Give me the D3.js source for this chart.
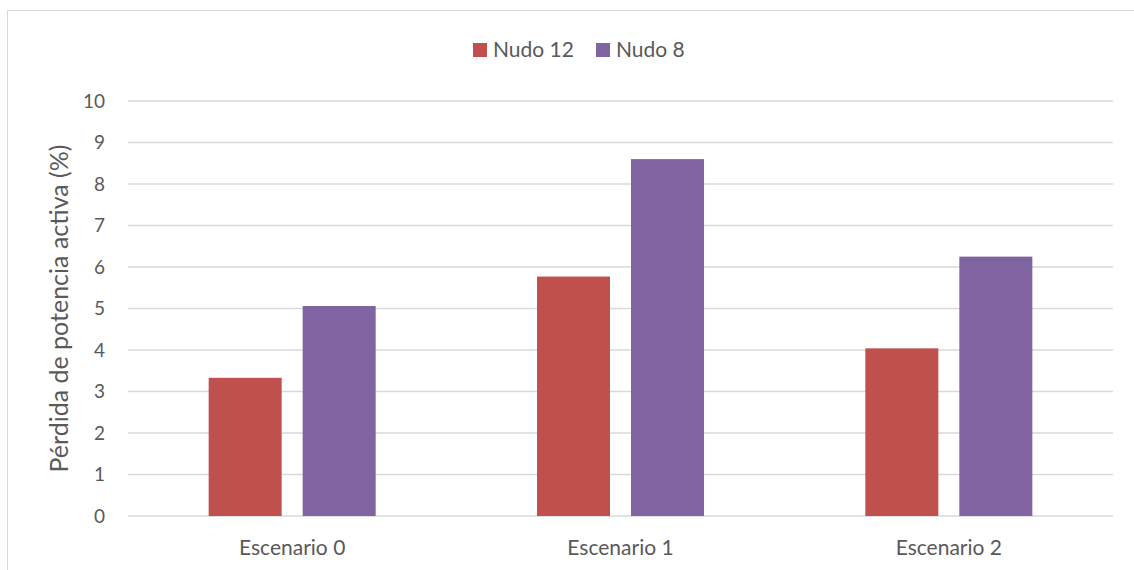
<!DOCTYPE html>
<html>
<head>
<meta charset="utf-8">
<script src="https://cdn.jsdelivr.net/npm/d3@7"></script>
<style>
  html, body { margin: 0; padding: 0; background: #fff; }
  svg { display: block; font-family: Lato, "Open Sans", sans-serif; }
</style>
</head>
<body>
<svg id="chart" width="1134" height="570"></svg>
<script>
// Categories, series and tick values
const categories = ["Escenario 0", "Escenario 1", "Escenario 2"];
const seriesNames = ["Nudo 12", "Nudo 8"];
const nudo12 = [3.33, 5.77, 4.04];
const nudo8 = [5.06, 8.60, 6.25];
const yTicks = [0, 1, 2, 3, 4, 5, 6, 7, 8, 9, 10];
const colors = ["#C0504D", "#8064A2"];
const yTitle = "Pérdida de potencia activa (%)";

const seriesValues = [nudo12, nudo8];
const svg = d3.select("#chart");
const textColor = "#595959";

// Chart area frame
svg.append("rect")
  .attr("x", 7.5).attr("y", 10.5)
  .attr("width", 1140).attr("height", 580)
  .attr("fill", "none").attr("stroke", "#d9d9d9").attr("stroke-width", 1);

const plot = { left: 128, right: 1113, top: 101, bottom: 516 };

const x0 = d3.scaleBand()
  .domain(categories)
  .range([plot.left, plot.right])
  .paddingInner(0).paddingOuter(0);

// bars within each category: 73px wide with a 21px gap
const groupFrac = 167 / 328.3;
const x1 = d3.scaleBand()
  .domain(seriesNames)
  .range([0, x0.bandwidth() * groupFrac])
  .paddingInner(21 / 94);

const y = d3.scaleLinear().domain([0, 10]).range([plot.bottom, plot.top]);

// gridlines
svg.append("g")
  .selectAll("line")
  .data(yTicks)
  .join("line")
  .attr("x1", plot.left).attr("x2", plot.right)
  .attr("y1", d => y(d)).attr("y2", d => y(d))
  .attr("stroke", "#d9d9d9").attr("stroke-width", 1.5);

// y axis labels
const yAxis = d3.axisLeft(y).tickValues(yTicks).tickSize(0).tickPadding(0).tickFormat(d3.format("d"));
const gy = svg.append("g").attr("transform", `translate(${plot.left - 23},0)`).call(yAxis);
gy.select(".domain").remove();
gy.selectAll("text").attr("fill", textColor).style("font-size", "19px").style("font-family", "Lato, sans-serif");

// x axis labels
const xAxis = d3.axisBottom(x0).tickSize(0).tickPadding(0);
const gx = svg.append("g").attr("transform", `translate(0,${plot.bottom + 24})`).call(xAxis);
gx.select(".domain").remove();
gx.selectAll("text").attr("fill", textColor).style("font-size", "21px").style("font-family", "Lato, sans-serif");

// bars
const groups = svg.append("g")
  .selectAll("g")
  .data(categories)
  .join("g")
  .attr("transform", c => `translate(${x0(c) + (x0.bandwidth() - x0.bandwidth() * groupFrac) / 2},0)`);

groups.selectAll("rect")
  .data((c, i) => seriesNames.map((s, k) => ({ s, v: seriesValues[k][i], k })))
  .join("rect")
  .attr("x", d => x1(d.s))
  .attr("width", x1.bandwidth())
  .attr("y", d => y(d.v))
  .attr("height", d => y(0) - y(d.v))
  .attr("fill", d => colors[d.k]);

// y axis title
svg.append("text")
  .attr("transform", `translate(68,${(plot.top + plot.bottom) / 2}) rotate(-90)`)
  .attr("text-anchor", "middle")
  .attr("fill", textColor)
  .style("font-size", "25px")
  .text(yTitle);

// legend
const legend = svg.append("g");
const legendX = [473, 596];
seriesNames.forEach((s, k) => {
  const g = legend.append("g").attr("transform", `translate(${legendX[k]},0)`);
  g.append("rect").attr("x", 0).attr("y", 43).attr("width", 14).attr("height", 14).attr("fill", colors[k]);
  g.append("text").attr("x", 20).attr("y", 50).attr("dy", "0.35em")
    .attr("fill", textColor).style("font-size", "21px").text(s);
});
</script>
</body>
</html>
